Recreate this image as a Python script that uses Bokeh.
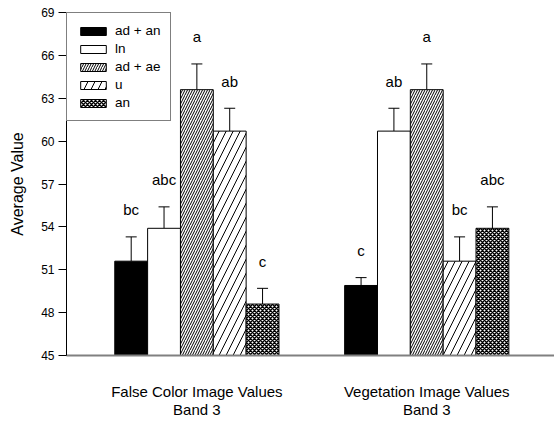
from bokeh.plotting import figure
from bokeh.models import (ColumnDataSource, Range1d, FixedTicker, Whisker, TeeHead,
                          Legend, LegendItem)
from bokeh.core.properties import value
from bokeh.embed import file_html
from bokeh.resources import INLINE

# ---- data ----
groups = ["False Color Image Values\nBand 3", "Vegetation Image Values\nBand 3"]
series = ["ad + an", "ln", "ad + ae", "u", "an"]
means_false_color = [51.6, 53.9, 63.6, 60.7, 48.6]
errs_false_color = [1.7, 1.5, 1.8, 1.6, 1.1]
means_vegetation = [49.9, 60.7, 63.6, 51.6, 53.9]
errs_vegetation = [0.55, 1.6, 1.8, 1.7, 1.5]
letters_false_color = ["bc", "abc", "a", "ab", "c"]
letters_vegetation = ["c", "ab", "a", "bc", "abc"]
y_ticks = [45, 48, 51, 54, 57, 60, 63, 66, 69]

means = [means_false_color, means_vegetation]
errs = [errs_false_color, errs_vegetation]
letters = [letters_false_color, letters_vegetation]

FONT = "Liberation Sans"
GROUP_STEP = len(series) + 2  # 2 bar-widths gap between groups

styles = {
    "ad + an": dict(fill_color="black"),
    "ln": dict(fill_color="white"),
    "ad + ae": dict(fill_color="white", hatch_pattern="/", hatch_scale=5, hatch_color="black", hatch_weight=1),
    "u": dict(fill_color="white", hatch_pattern="/", hatch_scale=14, hatch_color="black", hatch_weight=1),
    "an": dict(fill_color="white", hatch_pattern="x", hatch_scale=4, hatch_color="black", hatch_weight=1.5),
}

p = figure(width=554, height=423, output_backend="svg", toolbar_location=None,
           x_range=Range1d(-1.97, 12.89), y_range=Range1d(45, 69),
           min_border_left=66, min_border_right=0, min_border_top=12, min_border_bottom=68)
p.outline_line_color = None
p.xgrid.visible = False
p.ygrid.visible = False

items = []
all_x, all_top, all_up, all_lab = [], [], [], []
for si, s in enumerate(series):
    xs = [gi * GROUP_STEP + si for gi in range(len(groups))]
    tops = [means[gi][si] for gi in range(len(groups))]
    r = p.vbar(x=xs, top=tops, bottom=45, width=1.0, line_color="black", line_width=1,
               **styles[s])
    items.append(LegendItem(label=s, renderers=[r]))
    for gi in range(len(groups)):
        all_x.append(xs[gi])
        all_top.append(tops[gi])
        all_up.append(tops[gi] + errs[gi][si])
        all_lab.append(letters[gi][si])

src = ColumnDataSource(dict(x=all_x, top=all_top, upper=all_up, lab=all_lab))
w = Whisker(base="x", lower="top", upper="upper", source=src, dimension="height",
            line_color="black", line_width=1, lower_head=None,
            upper_head=TeeHead(size=11, line_color="black", line_width=1))
p.add_layout(w)

p.text(x="x", y="upper", text="lab", source=src, text_align="center", text_baseline="middle",
       y_offset=-27, text_font=value(FONT), text_font_size="15px", text_color="black")

legend = Legend(items=items, location="top_left", margin=0, padding=10, spacing=3,
                glyph_width=32, glyph_height=10, label_height=14, label_standoff=6,
                border_line_color="black", border_line_width=1, background_fill_alpha=1,
                label_text_font=FONT, label_text_font_size="13.5px", label_text_color="black")
p.add_layout(legend)

# y axis
p.yaxis.ticker = FixedTicker(ticks=y_ticks)
p.yaxis.axis_label = "Average Value"
p.yaxis.axis_label_text_font = FONT
p.yaxis.axis_label_text_font_size = "16px"
p.yaxis.axis_label_text_font_style = "normal"
p.yaxis.axis_label_text_color = "black"
p.yaxis.axis_label_standoff = 12
p.yaxis.major_label_text_font = FONT
p.yaxis.major_label_text_font_size = "12px"
p.yaxis.major_label_text_color = "black"
p.yaxis.major_tick_out = 8
p.yaxis.major_tick_in = 0
p.yaxis.minor_tick_line_color = None
p.yaxis.axis_line_color = "black"
p.yaxis.major_tick_line_color = "black"
p.yaxis.major_label_standoff = 4

# x axis
centers = [gi * GROUP_STEP + (len(series) - 1) / 2 for gi in range(len(groups))]
p.xaxis.ticker = FixedTicker(ticks=centers)
p.xaxis.major_label_overrides = {c: g for c, g in zip(centers, groups)}
p.xaxis.major_label_text_font = FONT
p.xaxis.major_label_text_font_size = "15px"
p.xaxis.major_label_text_color = "black"
p.xaxis.major_label_text_line_height = 1.1
p.xaxis.major_tick_line_color = None
p.xaxis.minor_tick_line_color = None
p.xaxis.axis_line_color = "#808080"
p.xaxis.axis_line_width = 2
p.xaxis.major_label_standoff = 21

open("out.html", "w").write(file_html(p, INLINE))
